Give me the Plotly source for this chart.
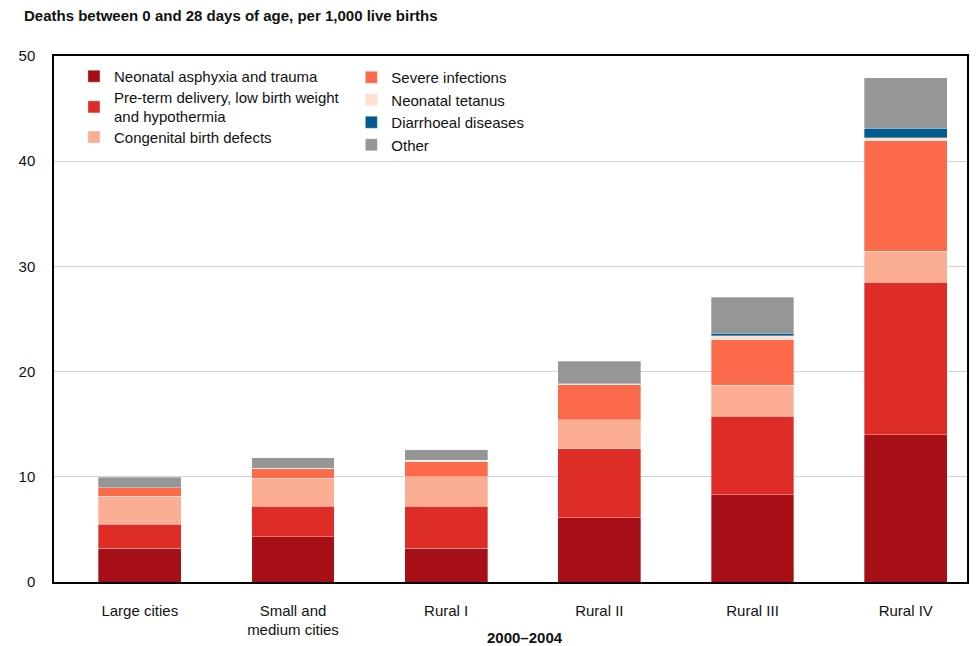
import plotly.graph_objects as go

categories = ["Large cities", "Small and<br>medium cities", "Rural I", "Rural II", "Rural III", "Rural IV"]

asphyxia = [3.2, 4.3, 3.2, 6.1, 8.3, 14.0]
preterm = [2.3, 2.9, 4.0, 6.55, 7.45, 14.5]
congenital = [2.65, 2.65, 2.8, 2.75, 2.95, 2.95]
infections = [0.8, 0.95, 1.45, 3.35, 4.35, 10.5]
tetanus = [0.0, 0.0, 0.1, 0.1, 0.35, 0.3]
diarrhoeal = [0.0, 0.0, 0.0, 0.0, 0.25, 0.9]
other = [1.0, 1.0, 1.0, 2.15, 3.4, 4.8]

series = [
    ("Neonatal asphyxia and trauma", asphyxia, "#A50F15", "legend"),
    ("Pre-term delivery, low birth weight<br>and hypothermia", preterm, "#DE2D26", "legend3"),
    ("Congenital birth defects", congenital, "#FBAE91", "legend4"),
    ("Severe infections", infections, "#FB6A4A", "legend2"),
    ("Neonatal tetanus", tetanus, "#FEE0D2", "legend2"),
    ("Diarrhoeal diseases", diarrhoeal, "#045A8D", "legend2"),
    ("Other", other, "#969696", "legend2"),
]

FONT = "Liberation Sans, Arial, sans-serif"

fig = go.Figure()
for name, vals, color, leg in series:
    fig.add_trace(go.Bar(
        x=categories, y=vals, name=name, legend=leg,
        marker=dict(color=color, line=dict(color="rgba(255,255,255,0.55)", width=0.6)),
        width=0.54, hoverinfo="skip",
    ))

L, R, T, B = 54, 8, 56, 62
W = 977 - L - R
H = 646 - T - B


def px_x(x):
    return (x - L) / W


def px_y(y):
    return 1 - (y - T) / H


def leg(x, y):
    return dict(x=px_x(x), y=px_y(y), xanchor="left", yanchor="top",
                bgcolor="rgba(0,0,0,0)", font=dict(size=15), traceorder="normal")


fig.update_layout(
    barmode="stack",
    width=977, height=646,
    margin=dict(l=L, r=R, t=T, b=B),
    paper_bgcolor="white", plot_bgcolor="white",
    font=dict(family=FONT, size=15, color="#111111"),
    showlegend=True,
    legend=leg(74, 60),
    legend3=leg(74, 81),
    legend4=leg(74, 121),
    legend2=leg(352, 61),
    xaxis=dict(range=[-0.56, 5.4], showline=True, linecolor="black", linewidth=1.5,
               mirror=True, ticks="", tickfont=dict(size=15), ticklabelstandoff=14,
               showgrid=False, fixedrange=True),
    yaxis=dict(range=[0, 50], dtick=10, showline=True, linecolor="black", linewidth=1.5,
               mirror=True, ticks="", tickfont=dict(size=15), ticklabelstandoff=14,
               showgrid=True, gridcolor="#D3D3D3", gridwidth=1, zeroline=False,
               fixedrange=True),
    annotations=[
        dict(text="<b>Deaths between 0 and 28 days of age, per 1,000 live births</b>",
             x=px_x(22), y=px_y(15), xref="paper", yref="paper",
             xanchor="left", yanchor="middle", showarrow=False,
             font=dict(size=15, color="#111111")),
        dict(text="<b>2000–2004</b>",
             x=px_x(526), y=px_y(640), xref="paper", yref="paper",
             xanchor="center", yanchor="middle", showarrow=False,
             font=dict(size=15, color="#111111")),
    ],
)

fig.write_html(
    "out.html",
    config={"displayModeBar": False, "staticPlot": False},
    post_script="document.body.style.margin='0';document.body.style.padding='0';",
)
